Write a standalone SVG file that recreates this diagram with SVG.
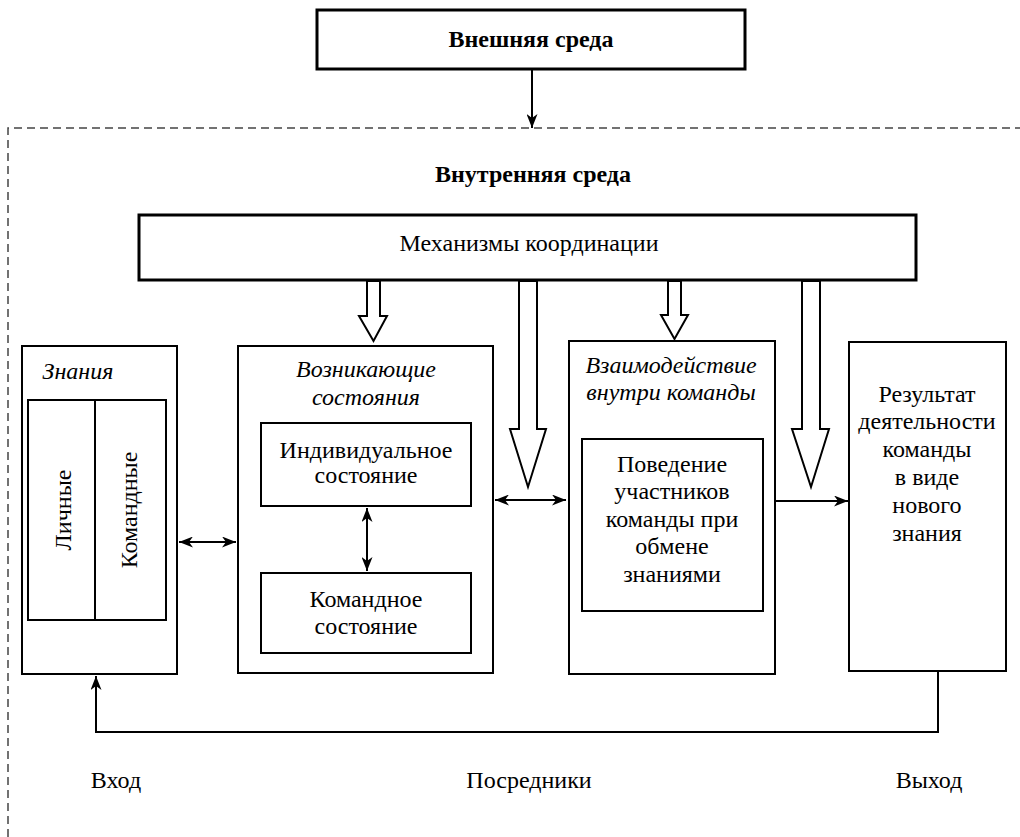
<svg xmlns="http://www.w3.org/2000/svg" width="1020" height="837" viewBox="0 0 1020 837">
<style>
text{font-family:"Liberation Serif","Times New Roman",serif;font-size:24px;fill:#000;text-anchor:middle}
.b{font-weight:bold}
.i{font-style:italic}
.box{fill:#fff;stroke:#000;stroke-width:2}
.thick{stroke-width:3}
.ln{fill:none;stroke:#000;stroke-width:2}
.hollow{fill:#fff;stroke:#000;stroke-width:2;stroke-linejoin:miter}
.dash{fill:none;stroke:#444;stroke-width:1.5;stroke-dasharray:8 5}
</style>
<defs>
<marker id="ah" viewBox="0 0 14 11" refX="14" refY="5.5" markerWidth="14" markerHeight="11" orient="auto-start-reverse" markerUnits="userSpaceOnUse">
<path d="M0,0 L14,5.5 L0,11 L4,5.5 z" fill="#000"/>
</marker>
</defs>
<rect width="1020" height="837" fill="#fff"/>
<path class="dash" d="M8,837 V128 H1020"/>
<g id="external">
<rect class="box thick" x="317" y="10" width="428" height="59"/>
<text class="b" x="531" y="47">Внешняя среда</text>
</g>
<g id="internal-label">
<text class="b" x="533" y="182">Внутренняя среда</text>
</g>
<g id="coordination">
<rect class="box thick" x="139" y="215" width="777" height="65"/>
<text x="529" y="251">Механизмы координации</text>
</g>
<g id="hollow-arrows">
<polygon class="hollow" points="367,281 380,281 380,316 387,316 373.5,341 359,316 367,316"/>
<polygon class="hollow" points="519,281 537,281 537,429 546,429 528,487 510,429 519,429"/>
<polygon class="hollow" points="668,281 681,281 681,315 688,315 674.5,339 661,315 668,315"/>
<polygon class="hollow" points="802,281 820,281 820,429 829,429 811,487 792,429 802,429"/>
</g>
<g id="knowledge">
<rect class="box" x="22" y="346" width="155" height="328"/>
<text class="i" x="78" y="379">Знания</text>
<rect class="box" x="28" y="400" width="67" height="220"/>
<rect class="box" x="95" y="400" width="71" height="220"/>
<text transform="translate(71,510) rotate(-90)">Личные</text>
<text transform="translate(137,510) rotate(-90)">Командные</text>
</g>
<g id="emergent">
<rect class="box" x="238" y="346" width="255" height="327"/>
<text class="i" x="366" y="377">Возникающие</text>
<text class="i" x="366" y="405">состояния</text>
</g>
<g id="individual">
<rect class="box" x="261" y="423" width="210" height="83"/>
<text x="366" y="458">Индивидуальное</text>
<text x="366" y="483">состояние</text>
</g>
<g id="team-state">
<rect class="box" x="261" y="573" width="210" height="80"/>
<text x="366" y="607">Командное</text>
<text x="366" y="634">состояние</text>
</g>
<g id="interaction">
<rect class="box" x="569" y="341" width="206" height="333"/>
<text class="i" x="671" y="373">Взаимодействие</text>
<text class="i" x="671" y="400">внутри команды</text>
</g>
<g id="behaviour">
<rect class="box" x="582" y="439" width="181" height="172"/>
<text x="672" y="472">Поведение</text>
<text x="672" y="499">участников</text>
<text x="672" y="527">команды при</text>
<text x="672" y="554">обмене</text>
<text x="672" y="582">знаниями</text>
</g>
<g id="result">
<rect class="box" x="849" y="342" width="157" height="329"/>
<text x="927" y="402">Результат</text>
<text x="927" y="429">деятельности</text>
<text x="927" y="457">команды</text>
<text x="927" y="485">в виде</text>
<text x="927" y="513">нового</text>
<text x="927" y="541">знания</text>
</g>
<g id="connectors">
<line class="ln" x1="532" y1="69" x2="532" y2="128" marker-end="url(#ah)"/>
<line class="ln" x1="179" y1="542" x2="236" y2="542" marker-start="url(#ah)" marker-end="url(#ah)"/>
<line class="ln" x1="367" y1="508" x2="367" y2="571" marker-start="url(#ah)" marker-end="url(#ah)"/>
<line class="ln" x1="495" y1="500" x2="566" y2="500" marker-start="url(#ah)" marker-end="url(#ah)"/>
<line class="ln" x1="776" y1="501" x2="848" y2="501" marker-end="url(#ah)"/>
<polyline class="ln" points="938,671 938,732 96,732 96,676" marker-end="url(#ah)"/>
</g>
<g id="bottom-labels">
<text x="116" y="788">Вход</text>
<text x="529" y="788">Посредники</text>
<text x="929" y="788">Выход</text>
</g>
</svg>
